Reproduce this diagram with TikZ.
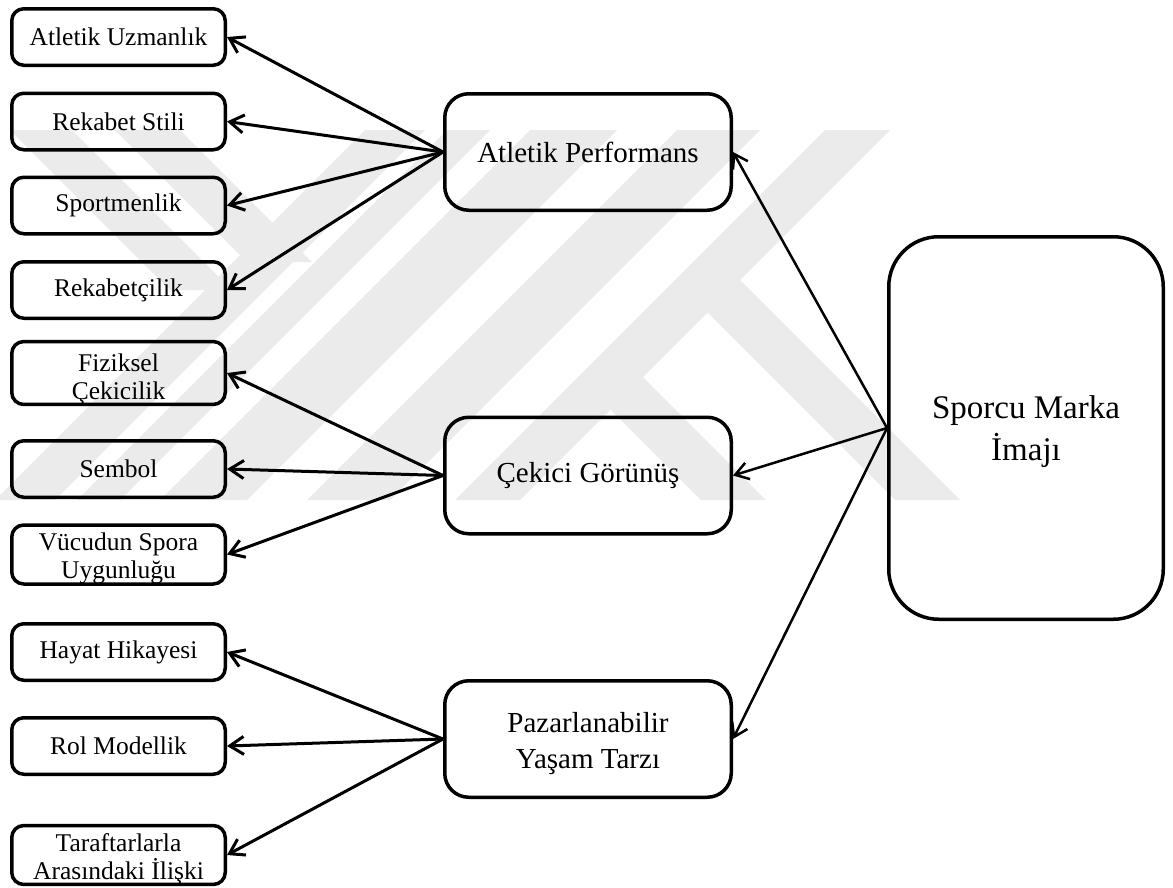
\documentclass[tikz,border=0pt]{standalone}
\usepackage{fontspec}
\setmainfont{Liberation Serif}
\usetikzlibrary{arrows.meta}
\definecolor{mark}{gray}{0.92}
\begin{document}
\begin{tikzpicture}[x=1pt,y=-1pt,
  leaf/.style={draw, line width=3.5pt, rounded corners=12pt, minimum width=213.5pt,
    minimum height=56.5pt, inner sep=0pt, align=center,
    font=\fontsize{25.5}{28}\selectfont},
  mid/.style={draw, line width=3.5pt, rounded corners=24pt, minimum width=286.5pt,
    minimum height=116.5pt, inner sep=0pt, align=center,
    font=\fontsize{29}{36}\selectfont},
  core/.style={draw, line width=3.5pt, rounded corners=50pt, minimum width=274.5pt,
    minimum height=382.5pt, inner sep=0pt, align=center,
    font=\fontsize{33}{42}\selectfont},
  link/.style={line width=3pt, -{Straight Barb[length=14pt,width=18pt]}},
  rlink/.style={line width=2.5pt, -{Straight Barb[length=13pt,width=17pt]}},
  band/.style={fill=mark, draw=none}
]
\useasboundingbox (0,0) rectangle (1173,887);
\fill[white] (0,0) rectangle (1173,887);

% faint background emblem
\fill[band] (10,130) -- (72,130) -- (232,290) -- (170,290) -- cycle;
\fill[band] (115,130) -- (180,130) -- (312,262) -- (247,262) -- cycle;
\fill[band] (365,130) -- (425,130) -- (55,500) -- (-5,500) -- cycle;
\fill[band] (447,130) -- (490,130) -- (120,500) -- (77,500) -- cycle;
\fill[band] (530,130) -- (617,130) -- (247,500) -- (160,500) -- cycle;
\fill[band] (677,130) -- (760,130) -- (390,500) -- (307,500) -- cycle;
\fill[band] (825,130) -- (890,130) -- (520,500) -- (455,500) -- cycle;
\fill[band] (740,280) -- (960,500) -- (895,500) -- (707.5,312.5) -- cycle;
\fill[band] (643,377) -- (766,500) -- (701,500) -- (610.5,409.5) -- cycle;

% attribute boxes
\node[leaf] (l1)  at (118.5,37)   {Atletik Uzmanlık};
\node[leaf] (l2)  at (118.5,121.5){Rekabet Stili};
\node[leaf] (l3)  at (118.5,205.5){Sportmenlik};
\node[leaf] (l4)  at (118.5,290)  {Rekabetçilik};
\node[leaf] (l5)  at (118.5,373)  {\rule{0pt}{29.5pt}Fiziksel\\Çekicilik};
\node[leaf] (l6)  at (118.5,469)  {Sembol};
\node[leaf] (l7)  at (118.5,554.5){\rule{0pt}{25.5pt}Vücudun Spora\\Uygunluğu};
\node[leaf] (l8)  at (118.5,652)  {Hayat Hikayesi};
\node[leaf] (l9)  at (118.5,746)  {Rol Modellik};
\node[leaf] (l10) at (118.5,855)  {\rule{0pt}{25.5pt}Taraftarlarla\\Arasındaki İlişki};

% dimension boxes
\node[mid] (perf) at (588,152)   {Atletik Performans};
\node[mid] (look) at (588,475.5) {Çekici Görünüş};
\node[mid] (life) at (588,739)   {\rule{0pt}{30pt}Pazarlanabilir\\Yaşam Tarzı};

% central concept
\node[core] (img) at (1026,428) {\rule{0pt}{30.5pt}Sporcu Marka\\İmajı};

% connectors
\foreach \t in {l1,l2,l3,l4} \draw[link] (perf.west) -- (\t.east);
\foreach \t in {l5,l6,l7} \draw[link] (look.west) -- (\t.east);
\foreach \t in {l8,l9,l10} \draw[link] (life.west) -- (\t.east);
\foreach \t in {perf,look,life} \draw[rlink] (img.west) -- (\t.east);
\end{tikzpicture}
\end{document}
